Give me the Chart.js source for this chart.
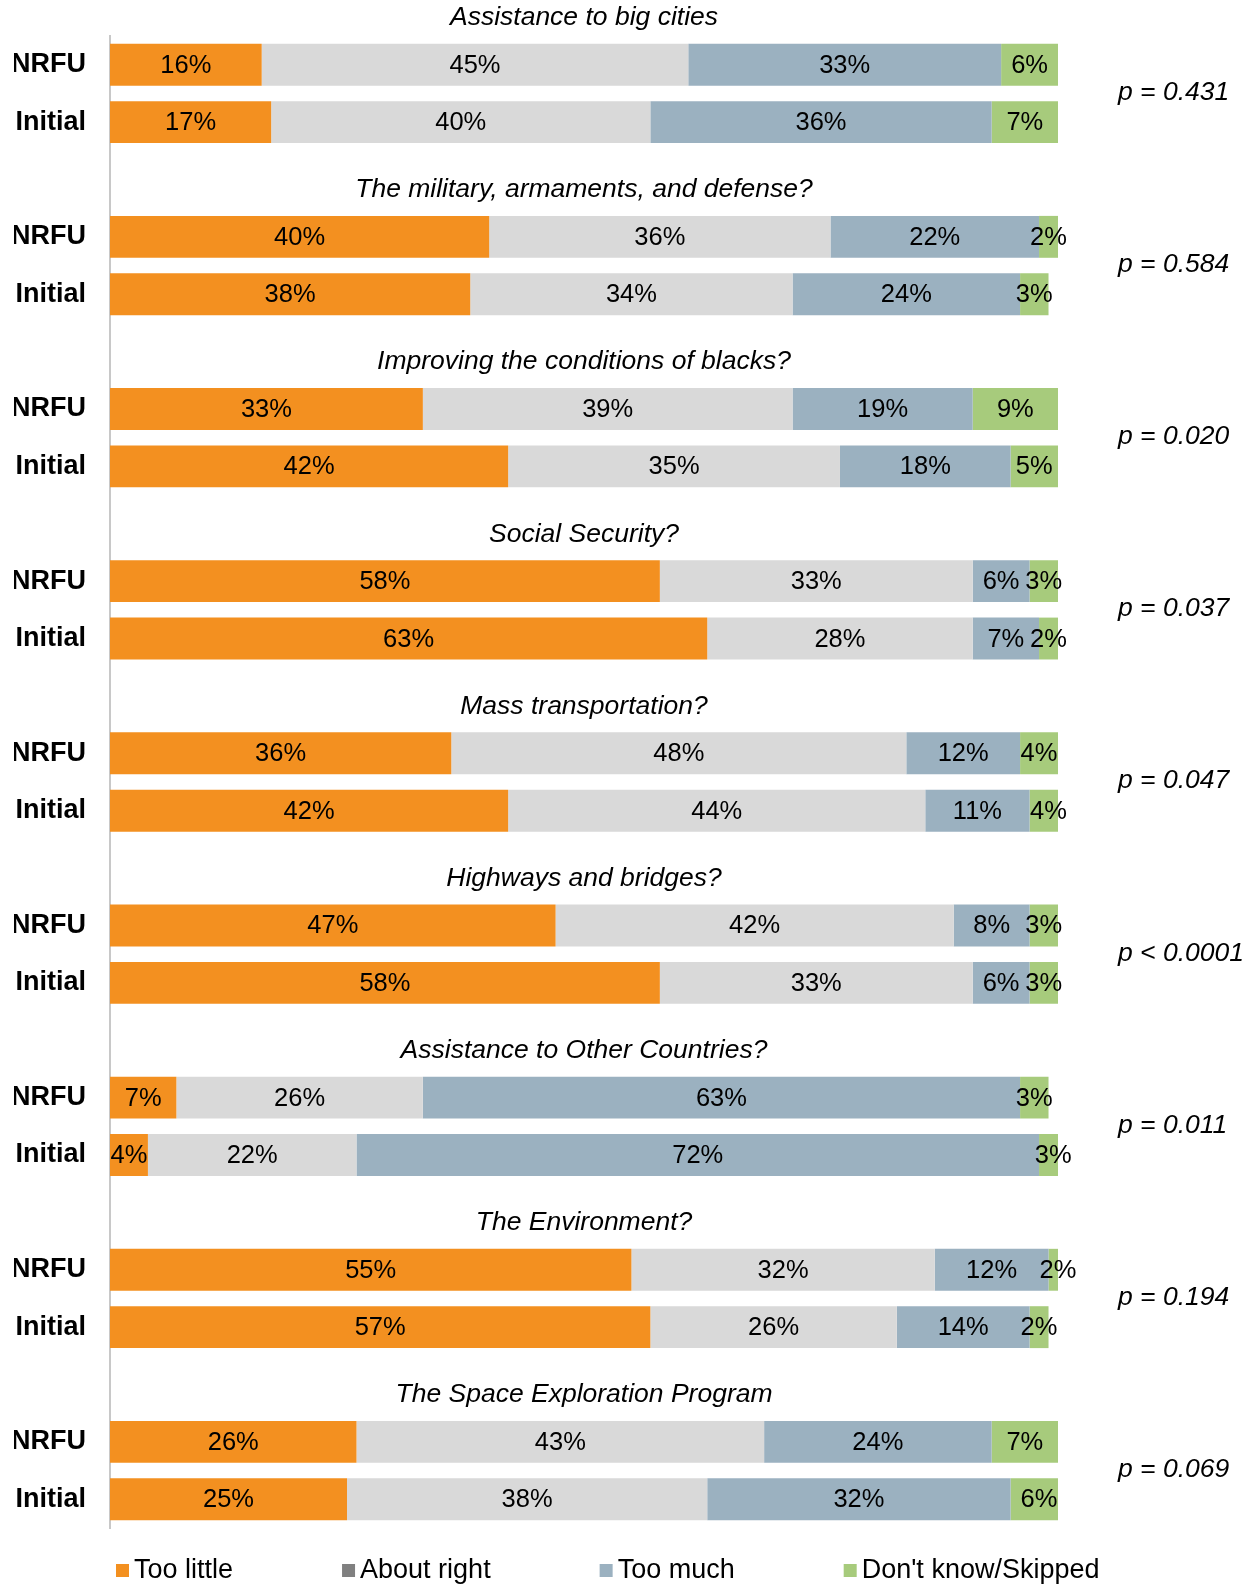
<!DOCTYPE html>
<html>
<head>
<meta charset="utf-8">
<script src="https://cdn.jsdelivr.net/npm/chart.js@4"></script>
<style>
  html, body { margin: 0; padding: 0; background: #fff; }
  canvas { display: block; }
</style>
</head>
<body>
<canvas id="surveyChart" width="1255" height="1585"></canvas>
<script>
const groups = ['Assistance to big cities', 'The military, armaments, and defense?', 'Improving the conditions of blacks?',
    'Social Security?', 'Mass transportation?', 'Highways and bridges?', 'Assistance to Other Countries?',
    'The Environment?', 'The Space Exploration Program'];
const pValues = ['p = 0.431', 'p = 0.584', 'p = 0.020', 'p = 0.037', 'p = 0.047', 'p < 0.0001', 'p = 0.011', 'p = 0.194', 'p = 0.069'];
const rowNames = ['NRFU', 'Initial'];

// pairs per group: NRFU, Initial
const tooLittle  = [16, 17, 40, 38, 33, 42, 58, 63, 36, 42, 47, 58, 7, 4, 55, 57, 26, 25];
const aboutRight = [45, 40, 36, 34, 39, 35, 33, 28, 48, 44, 42, 33, 26, 22, 32, 26, 43, 38];
const tooMuch    = [33, 36, 22, 24, 19, 18, 6, 7, 12, 11, 8, 6, 63, 72, 12, 14, 24, 32];
const dontKnow   = [6, 7, 2, 3, 9, 5, 3, 2, 4, 4, 3, 3, 3, 3, 2, 2, 7, 6];

const seriesNames = ['Too little', 'About right', 'Too much', "Don't know/Skipped"];
const barColors = ['#F39020', '#D9D9D9', '#9BB1C0', '#A7CB7C'];
const legendColors = ['#F39020', '#808080', '#9BB1C0', '#A7CB7C'];

// category slots: NRFU, Initial, then a blank row before the next group
const labels = [];
const slotIndex = [];
groups.forEach((g, gi) => {
    if (gi > 0) labels.push('');
    rowNames.forEach(r => { slotIndex.push(labels.length); labels.push(r); });
});
function spread(values) {
    const out = labels.map(() => null);
    values.forEach((v, i) => { out[slotIndex[i]] = v; });
    return out;
}

const FONT = '"Liberation Sans", Arial, sans-serif';

const extras = {
    id: 'extras',
    afterDatasetsDraw(chart) {
        const ctx = chart.ctx;
        ctx.save();
        ctx.font = '25.5px ' + FONT;
        ctx.fillStyle = '#000';
        ctx.textAlign = 'center';
        ctx.textBaseline = 'middle';
        chart.data.datasets.forEach((ds, di) => {
            chart.getDatasetMeta(di).data.forEach((bar, i) => {
                const v = ds.data[i];
                if (v === null) return;
                ctx.fillText(v + '%', (bar.x + bar.base) / 2, bar.y + 1);
            });
        });
        ctx.restore();
    },
    afterDraw(chart) {
        const ctx = chart.ctx;
        const area = chart.chartArea;
        const y = chart.scales.y;
        ctx.save();
        ctx.fillStyle = '#000';
        ctx.textBaseline = 'middle';

        // group titles and p values
        groups.forEach((g, gi) => {
            const top = y.getPixelForValue(slotIndex[gi * 2]);
            const bottom = y.getPixelForValue(slotIndex[gi * 2 + 1]);
            ctx.font = 'italic 26.5px ' + FONT;
            ctx.textAlign = 'center';
            ctx.fillText(g, (area.left + area.right) / 2, top - 47);
            ctx.textAlign = 'left';
            ctx.fillText(pValues[gi], 1118, (top + bottom) / 2 - 1);
        });

        // legend
        ctx.font = '27px ' + FONT;
        ctx.textAlign = 'left';
        let x = 116;
        const ly = 1570;
        seriesNames.forEach((name, i) => {
            ctx.fillStyle = legendColors[i];
            ctx.fillRect(x, ly - 6, 13, 13);
            ctx.fillStyle = '#000';
            ctx.fillText(name, x + 18, ly + 1);
            x += 18 + ctx.measureText(name).width + 109;
        });
        ctx.restore();
    }
};

const ctx = document.getElementById('surveyChart').getContext('2d');
const surveyChart = new Chart(ctx, {
    type: 'bar',
    data: {
        labels: labels,
        datasets: [tooLittle, aboutRight, tooMuch, dontKnow].map((vals, i) => ({
            label: seriesNames[i],
            data: spread(vals),
            backgroundColor: barColors[i],
            borderWidth: 0,
            categoryPercentage: 1,
            barPercentage: 0.73
        }))
    },
    options: {
        indexAxis: 'y',
        responsive: false,
        animation: false,
        layout: { padding: { top: 36, bottom: 57, left: 14, right: 197 } },
        plugins: {
            legend: { display: false },
            tooltip: { enabled: false }
        },
        scales: {
            x: {
                stacked: true,
                min: 0,
                max: 100,
                display: false
            },
            y: {
                stacked: true,
                afterFit(scale) { scale.width = 96; },
                grid: { display: false, drawTicks: true, tickLength: 24 },
                border: { display: true, color: '#C8C8C8', width: 2 },
                ticks: {
                    padding: 0,
                    color: '#000',
                    font: { family: FONT, size: 27, weight: 'bold' }
                }
            }
        }
    },
    plugins: [extras]
});
</script>
</body>
</html>
